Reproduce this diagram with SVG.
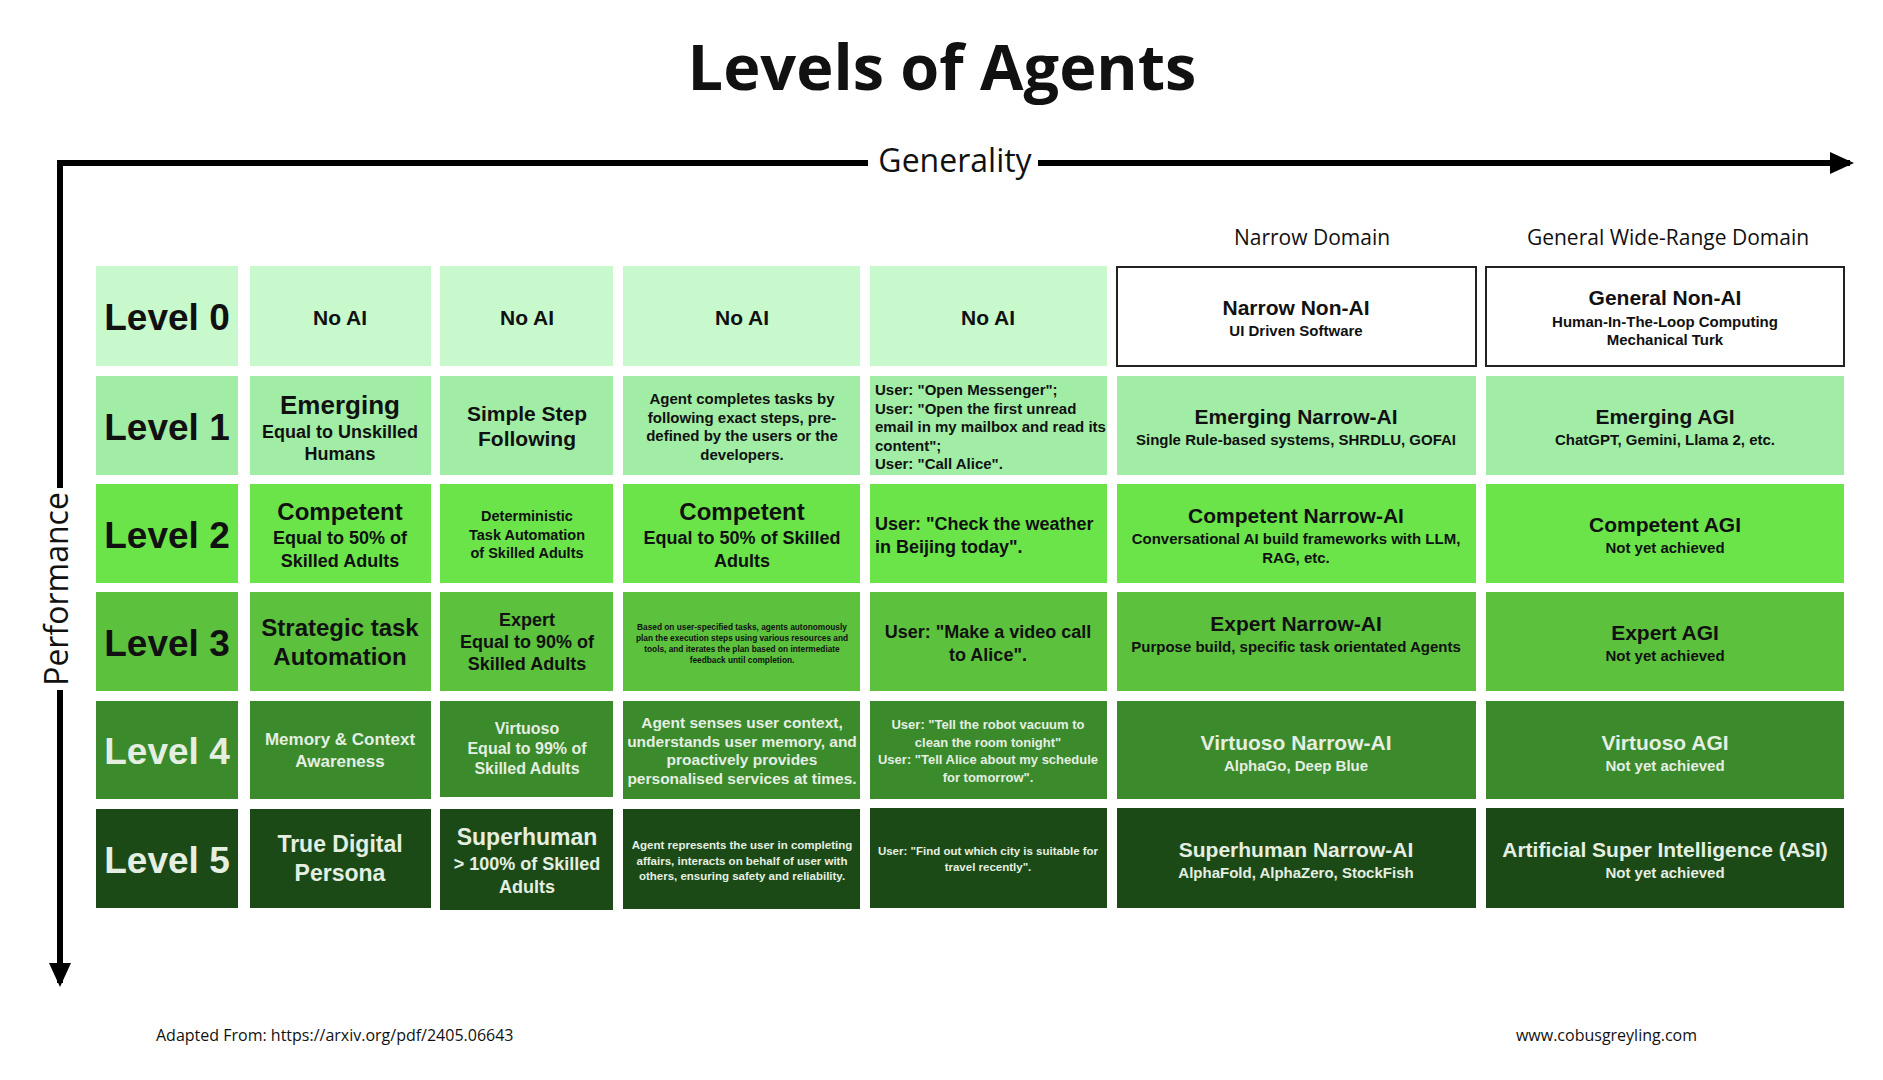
<svg xmlns="http://www.w3.org/2000/svg" width="1883" height="1080" viewBox="0 0 1883 1080">
<defs>
<marker id="ah2" markerWidth="26" markerHeight="26" refX="20" refY="13" orient="auto" markerUnits="userSpaceOnUse"><path d="M0,2 L24,13 L0,24 z" fill="#000"/></marker>
<style>
text{font-family:"Liberation Sans",Arial,sans-serif;text-anchor:middle;font-weight:bold}
.r0{fill:#c8f9cc}.r1{fill:#a2eda5}.r2{fill:#6be44a}.r3{fill:#5cc13d}.r4{fill:#3b8a2c}.r5{fill:#1c4a17}
.dk{fill:#111}.lt{fill:#e4efe2}
.lv{font-size:37px}
.wb{fill:#fff;stroke:#222;stroke-width:2}
.ax{stroke:#000;stroke-width:6;fill:none}
</style>
</defs>
<rect width="1883" height="1080" fill="#fff"/>
<text x="942" y="90" style="font-family:'Open Sans','Liberation Sans',sans-serif;font-size:63px" class="dk">Levels of Agents</text>
<g id="connectors">
<path class="ax" d="M1038,163 L1850,163" marker-end="url(#ah2)"/>
<path class="ax" d="M60,163 L868,163"/>
<path class="ax" d="M60,160 L60,488"/>
<path class="ax" d="M60,690 L60,983" marker-end="url(#ah2)"/>
</g>
<text x="955" y="172" style="font-family:'Open Sans','Liberation Sans',sans-serif;font-size:32px;font-weight:normal" class="dk">Generality</text>
<text transform="translate(68,589) rotate(-90)" style="font-family:'Open Sans','Liberation Sans',sans-serif;font-size:32px;font-weight:normal" class="dk">Performance</text>
<text x="1312" y="245" style="font-family:'Open Sans','Liberation Sans',sans-serif;font-size:21px;font-weight:normal" class="dk">Narrow Domain</text>
<text x="1668" y="245" style="font-family:'Open Sans','Liberation Sans',sans-serif;font-size:21px;font-weight:normal" class="dk">General Wide-Range Domain</text>

<g id="row0">
<rect class="r0" x="96" y="266" width="142" height="100"/><text class="dk lv" x="167" y="330">Level 0</text>
<rect class="r0" x="250" y="266" width="181" height="100"/><text class="dk" x="340" y="325" font-size="21">No AI</text>
<rect class="r0" x="440" y="266" width="173" height="100"/><text class="dk" x="527" y="325" font-size="21">No AI</text>
<rect class="r0" x="623" y="266" width="237" height="100"/><text class="dk" x="742" y="325" font-size="21">No AI</text>
<rect class="r0" x="870" y="266" width="237" height="100"/><text class="dk" x="988" y="325" font-size="21">No AI</text>
<rect class="wb" x="1117" y="267" width="359" height="99"/><text class="dk" x="1296" y="315" font-size="21">Narrow Non-AI<tspan x="1296" dy="21" font-size="15">UI Driven Software</tspan></text>
<rect class="wb" x="1486" y="267" width="358" height="99"/><text class="dk" x="1665" y="305" font-size="21">General Non-AI<tspan x="1665" dy="22" font-size="15">Human-In-The-Loop Computing</tspan><tspan x="1665" dy="18" font-size="15">Mechanical Turk</tspan></text>
</g>

<g id="row1">
<rect class="r1" x="96" y="376" width="142" height="99"/><text class="dk lv" x="167" y="440">Level 1</text>
<rect class="r1" x="250" y="376" width="181" height="99"/><text class="dk" x="340" y="414" font-size="26">Emerging<tspan x="340" dy="24" font-size="18">Equal to Unskilled</tspan><tspan x="340" dy="22" font-size="18">Humans</tspan></text>
<rect class="r1" x="440" y="376" width="173" height="99"/><text class="dk" x="527" y="421" font-size="21">Simple Step<tspan x="527" dy="25">Following</tspan></text>
<rect class="r1" x="623" y="376" width="237" height="99"/><text class="dk" x="742" y="404" font-size="15">Agent completes tasks by<tspan x="742" dy="18.5">following exact steps, pre-</tspan><tspan x="742" dy="18.5">defined by the users or the</tspan><tspan x="742" dy="18.5">developers.</tspan></text>
<rect class="r1" x="870" y="376" width="237" height="99"/><text class="dk" x="875" y="395" font-size="15" style="text-anchor:start">User: "Open Messenger";<tspan x="875" dy="18.5">User: "Open the first unread</tspan><tspan x="875" dy="18.5">email in my mailbox and read its</tspan><tspan x="875" dy="18.5">content";</tspan><tspan x="875" dy="18.5">User: "Call Alice".</tspan></text>
<rect class="r1" x="1117" y="376" width="359" height="99"/><text class="dk" x="1296" y="424" font-size="21">Emerging Narrow-AI<tspan x="1296" dy="21" font-size="15">Single Rule-based systems, SHRDLU, GOFAI</tspan></text>
<rect class="r1" x="1486" y="376" width="358" height="99"/><text class="dk" x="1665" y="424" font-size="21">Emerging AGI<tspan x="1665" dy="21" font-size="15">ChatGPT, Gemini, Llama 2, etc.</tspan></text>
</g>

<g id="row2">
<rect class="r2" x="96" y="484" width="142" height="99"/><text class="dk lv" x="167" y="548">Level 2</text>
<rect class="r2" x="250" y="484" width="181" height="99"/><text class="dk" x="340" y="520" font-size="24">Competent<tspan x="340" dy="24" font-size="18">Equal to 50% of</tspan><tspan x="340" dy="23" font-size="18">Skilled Adults</tspan></text>
<rect class="r2" x="440" y="484" width="173" height="99"/><text class="dk" x="527" y="521" font-size="14.5">Deterministic<tspan x="527" dy="18.5">Task Automation</tspan><tspan x="527" dy="18.5">of Skilled Adults</tspan></text>
<rect class="r2" x="623" y="484" width="237" height="99"/><text class="dk" x="742" y="520" font-size="24">Competent<tspan x="742" dy="24" font-size="18">Equal to 50% of Skilled</tspan><tspan x="742" dy="23" font-size="18">Adults</tspan></text>
<rect class="r2" x="870" y="484" width="237" height="99"/><text class="dk" x="875" y="530" font-size="18" style="text-anchor:start">User: "Check the weather<tspan x="875" dy="23">in Beijing today".</tspan></text>
<rect class="r2" x="1117" y="484" width="359" height="99"/><text class="dk" x="1296" y="523" font-size="21">Competent Narrow-AI<tspan x="1296" dy="21" font-size="15">Conversational AI build frameworks with LLM,</tspan><tspan x="1296" dy="19" font-size="15">RAG, etc.</tspan></text>
<rect class="r2" x="1486" y="484" width="358" height="99"/><text class="dk" x="1665" y="532" font-size="21">Competent AGI<tspan x="1665" dy="21" font-size="15">Not yet achieved</tspan></text>
</g>

<g id="row3">
<rect class="r3" x="96" y="592" width="142" height="99"/><text class="dk lv" x="167" y="656">Level 3</text>
<rect class="r3" x="250" y="592" width="181" height="99"/><text class="dk" x="340" y="636" font-size="24">Strategic task<tspan x="340" dy="29">Automation</tspan></text>
<rect class="r3" x="440" y="592" width="173" height="99"/><text class="dk" x="527" y="626" font-size="18">Expert<tspan x="527" dy="22">Equal to 90% of</tspan><tspan x="527" dy="22">Skilled Adults</tspan></text>
<rect class="r3" x="623" y="592" width="237" height="99"/><text class="dk" x="742" y="630" font-size="8.3">Based on user-specified tasks, agents autonomously<tspan x="742" dy="11">plan the execution steps using various resources and</tspan><tspan x="742" dy="11">tools, and iterates the plan based on intermediate</tspan><tspan x="742" dy="11">feedback until completion.</tspan></text>
<rect class="r3" x="870" y="592" width="237" height="99"/><text class="dk" x="988" y="638" font-size="18">User: "Make a video call<tspan x="988" dy="23">to Alice".</tspan></text>
<rect class="r3" x="1117" y="592" width="359" height="99"/><text class="dk" x="1296" y="631" font-size="21">Expert Narrow-AI<tspan x="1296" dy="21" font-size="15">Purpose build, specific task orientated Agents</tspan></text>
<rect class="r3" x="1486" y="592" width="358" height="99"/><text class="dk" x="1665" y="640" font-size="21">Expert AGI<tspan x="1665" dy="21" font-size="15">Not yet achieved</tspan></text>
</g>

<g id="row4">
<rect class="r4" x="96" y="701" width="142" height="98"/><text class="lt lv" x="167" y="764">Level 4</text>
<rect class="r4" x="250" y="701" width="181" height="98"/><text class="lt" x="340" y="745" font-size="17">Memory &amp; Context<tspan x="340" dy="22">Awareness</tspan></text>
<rect class="r4" x="440" y="701" width="173" height="96"/><text class="lt" x="527" y="734" font-size="16">Virtuoso<tspan x="527" dy="20">Equal to 99% of</tspan><tspan x="527" dy="20">Skilled Adults</tspan></text>
<rect class="r4" x="623" y="701" width="237" height="98"/><text class="lt" x="742" y="728" font-size="15.5">Agent senses user context,<tspan x="742" dy="18.5">understands user memory, and</tspan><tspan x="742" dy="18.5">proactively provides</tspan><tspan x="742" dy="18.5">personalised services at times.</tspan></text>
<rect class="r4" x="870" y="701" width="237" height="98"/><text class="lt" x="988" y="729" font-size="13">User: "Tell the robot vacuum to<tspan x="988" dy="17.5">clean the room tonight"</tspan><tspan x="988" dy="17.5">User: "Tell Alice about my schedule</tspan><tspan x="988" dy="17.5">for tomorrow".</tspan></text>
<rect class="r4" x="1117" y="701" width="359" height="98"/><text class="lt" x="1296" y="750" font-size="21">Virtuoso Narrow-AI<tspan x="1296" dy="21" font-size="15">AlphaGo, Deep Blue</tspan></text>
<rect class="r4" x="1486" y="701" width="358" height="98"/><text class="lt" x="1665" y="750" font-size="21">Virtuoso AGI<tspan x="1665" dy="21" font-size="15">Not yet achieved</tspan></text>
</g>

<g id="row5">
<rect class="r5" x="96" y="809" width="142" height="99"/><text class="lt lv" x="167" y="873">Level 5</text>
<rect class="r5" x="250" y="809" width="181" height="99"/><text class="lt" x="340" y="852" font-size="23">True Digital<tspan x="340" dy="29">Persona</tspan></text>
<rect class="r5" x="440" y="809" width="173" height="101"/><text class="lt" x="527" y="845" font-size="23">Superhuman<tspan x="527" dy="25" font-size="18">&gt; 100% of Skilled</tspan><tspan x="527" dy="23" font-size="18">Adults</tspan></text>
<rect class="r5" x="623" y="809" width="237" height="100"/><text class="lt" x="742" y="849" font-size="11.5">Agent represents the user in completing<tspan x="742" dy="15.5">affairs, interacts on behalf of user with</tspan><tspan x="742" dy="15.5">others, ensuring safety and reliability.</tspan></text>
<rect class="r5" x="870" y="808" width="237" height="100"/><text class="lt" x="988" y="855" font-size="11.5">User: "Find out which city is suitable for<tspan x="988" dy="16">travel recently".</tspan></text>
<rect class="r5" x="1117" y="808" width="359" height="100"/><text class="lt" x="1296" y="857" font-size="21">Superhuman Narrow-AI<tspan x="1296" dy="21" font-size="15">AlphaFold, AlphaZero, StockFish</tspan></text>
<rect class="r5" x="1486" y="808" width="358" height="100"/><text class="lt" x="1665" y="857" font-size="21">Artificial Super Intelligence (ASI)<tspan x="1665" dy="21" font-size="15">Not yet achieved</tspan></text>
</g>

<text x="156" y="1041" style="text-anchor:start;font-family:'Open Sans','Liberation Sans',sans-serif;font-size:16px;font-weight:normal" class="dk">Adapted From: https://arxiv.org/pdf/2405.06643</text>
<text x="1697" y="1041" style="text-anchor:end;font-family:'Open Sans','Liberation Sans',sans-serif;font-size:16px;font-weight:normal" class="dk">www.cobusgreyling.com</text>
</svg>
